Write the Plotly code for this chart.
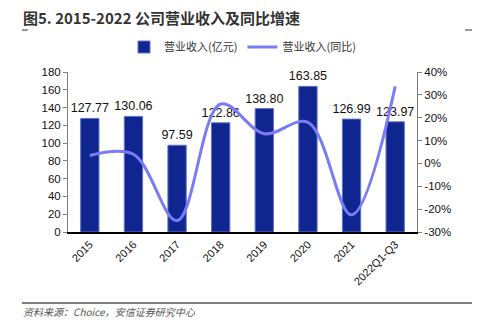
import plotly.graph_objects as go

categories = ["2015", "2016", "2017", "2018", "2019", "2020", "2021", "2022Q1-Q3"]
revenue = [127.77, 130.06, 97.59, 122.86, 138.80, 163.85, 126.99, 123.97]
growth = [3.5, 4.0, -25.0, 26.0, 13.0, 18.0, -22.5, 33.7]
rev_labels = [f"{v:.2f}" for v in revenue]
left_ticks = [0, 20, 40, 60, 80, 100, 120, 140, 160, 180]
right_ticks = [-30, -20, -10, 0, 10, 20, 30, 40]

BAR = "#0F2690"
LINE = "#7B7BF8"
FONT = "Liberation Sans, Arial, sans-serif"
CJK = "Noto Sans CJK SC"

W, H = 479, 325
L, R, T, B = 68, 62, 72, 93
PW, PH = W - L - R, H - T - B


def px(x):
    return (x - L) / PW


def py(y):
    return (H - B - y) / PH


fig = go.Figure()
fig.add_trace(go.Bar(
    x=categories, y=revenue, name="营业收入(亿元)",
    marker=dict(color=BAR, line=dict(color="#6272C8", width=1)),
    width=0.42,
    text=rev_labels, textposition="outside", constraintext="none",
    textfont=dict(size=12.5, color="#111111", family=FONT),
    cliponaxis=False,
))
fig.add_trace(go.Scatter(
    x=categories, y=growth, name="营业收入(同比)", yaxis="y2",
    mode="lines", line=dict(color=LINE, width=3, shape="spline", smoothing=1.0),
))

fig.update_layout(
    width=W, height=H,
    margin=dict(l=L, r=R, t=T, b=B),
    paper_bgcolor="white", plot_bgcolor="white",
    showlegend=True,
    legend=dict(orientation="h", x=0.5, xanchor="center", y=py(47), yanchor="middle",
                font=dict(size=11, family=CJK, color="#333333")),
    xaxis=dict(
        type="category", tickangle=-45,
        tickfont=dict(size=11, family=FONT, color="#111111"),
        showline=True, linecolor="#000000", linewidth=1.5,
        ticks="", showgrid=False,
    ),
    yaxis=dict(
        range=[0, 180], tickvals=left_ticks,
        tickfont=dict(size=11.5, family=FONT, color="#111111"),
        showline=True, linecolor="#808080", linewidth=1,
        ticks="outside", ticklen=4, tickcolor="#808080",
        showgrid=False, zeroline=False,
    ),
    yaxis2=dict(
        overlaying="y", side="right",
        range=[-30, 40], tickvals=right_ticks,
        ticktext=[f"{t}%" for t in right_ticks],
        tickfont=dict(size=11.5, family=FONT, color="#111111"),
        showline=True, linecolor="#808080", linewidth=1,
        ticks="outside", ticklen=4, tickcolor="#808080",
        showgrid=False, zeroline=False,
    ),
)

fig.add_annotation(
    text="<b>图5. 2015-2022 公司营业收入及同比增速</b>",
    xref="paper", yref="paper", x=px(21), y=py(17), xanchor="left", yanchor="middle",
    showarrow=False,
    font=dict(size=15, family=CJK, color="#333333"),
)
fig.add_annotation(
    text="<i>资料来源：Choice，安信证券研究中心</i>",
    xref="paper", yref="paper", x=px(21), y=py(311), xanchor="left", yanchor="middle",
    showarrow=False,
    font=dict(size=10, family=CJK, color="#555555"),
)
# decorative rules
fig.add_shape(type="line", xref="paper", yref="paper", x0=px(22), x1=px(472), y0=py(303), y1=py(303),
              line=dict(color="#000000", width=1.2))
fig.add_shape(type="line", xref="paper", yref="paper", x0=px(22), x1=px(28), y0=py(30), y1=py(30),
              line=dict(color="#333333", width=1))
fig.add_shape(type="line", xref="paper", yref="paper", x0=px(465), x1=px(472), y0=py(30), y1=py(30),
              line=dict(color="#333333", width=1))

fig.write_html("out.html")
